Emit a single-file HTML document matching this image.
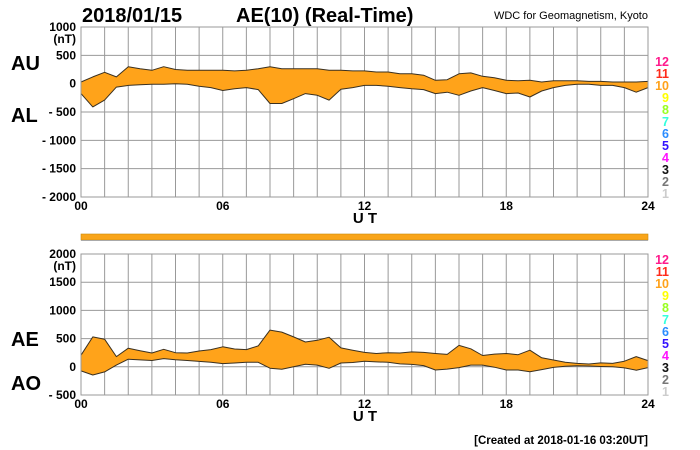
<!DOCTYPE html>
<html><head><meta charset="utf-8"><style>
body{margin:0;background:#fff;}
svg{display:block;font-family:"Liberation Sans",Arial,sans-serif;}
</style></head><body>
<svg id="c" width="700" height="450" viewBox="0 0 700 450" xmlns="http://www.w3.org/2000/svg">
<text x="82" y="22" font-size="20" font-weight="bold">2018/01/15</text>
<text x="236" y="22" font-size="20" font-weight="bold">AE(10) (Real-Time)</text>
<text x="648" y="19" font-size="11" text-anchor="end">WDC for Geomagnetism, Kyoto</text>
<text x="11" y="70" font-size="20" font-weight="bold">AU</text>
<text x="11" y="122" font-size="20" font-weight="bold">AL</text>
<text x="11" y="346" font-size="20" font-weight="bold">AE</text>
<text x="11" y="390" font-size="20" font-weight="bold">AO</text>
<rect x="81" y="234" width="567" height="6" fill="#f9a51a" stroke="#c98a10" stroke-width="0.6"/>
<line x1="81" y1="240.5" x2="648" y2="240.5" stroke="#aaa" stroke-width="1"/>
<text x="648" y="444" font-size="11.5" font-weight="bold" text-anchor="end">[Created at 2018-01-16 03:20UT]</text>
</svg>
<script>
const hours=[0,0.5,1,1.5,2,2.5,3,3.5,4,4.5,5,5.5,6,6.5,7,7.5,8,8.5,9,9.5,10,10.5,11,11.5,12,12.5,13,13.5,14,14.5,15,15.5,16,16.5,17,17.5,18,18.5,19,19.5,20,20.5,21,21.5,22,22.5,23,23.5,24];
const auValues=[30,120,200,120,300,265,235,300,250,235,235,235,235,225,235,265,300,265,265,265,265,235,235,225,225,205,205,175,175,150,60,70,175,190,130,105,60,50,60,30,50,50,50,40,40,30,30,30,40];
const alValues=[-175,-410,-290,-60,-30,-20,-10,-10,0,-10,-45,-70,-120,-90,-70,-105,-350,-350,-265,-175,-205,-290,-100,-70,-30,-30,-45,-70,-90,-105,-175,-150,-205,-130,-70,-120,-175,-165,-235,-130,-70,-30,-10,-10,-30,-30,-70,-150,-70];
const aeValues=[205,530,490,180,330,285,245,310,250,245,280,305,355,315,305,370,650,615,530,440,470,525,335,295,255,235,250,245,265,255,235,220,380,320,200,225,235,215,295,160,120,80,60,50,70,60,100,180,110];
const aoValues=[-72,-145,-90,30,135,122,112,145,125,112,95,82,57,67,82,80,-25,-42,0,45,30,-27,67,77,97,87,80,52,42,22,-57,-40,-15,30,30,-7,-57,-57,-87,-50,-10,10,20,15,5,0,-20,-60,-15];
const topTicks=[1000,500,0,-500,-1000,-1500,-2000];
const botTicks=[2000,1500,1000,500,0,-500];
const xTickLabels=["00","06","12","18","24"];
const legendLabels=["12","11","10","9","8","7","6","5","4","3","2","1"];
const legendColors=["#ff1a8c","#ff2a1a","#ffa21a","#ffff00","#99ff22","#33ffdd","#2a8cff","#3311ff","#ff11ff","#111","#777","#ccc"];

const svg=document.getElementById('c');
const NS='http://www.w3.org/2000/svg';
const X0=81,X1=648;
const xs=h=>X0+(X1-X0)*h/24;
function mk(tag,attrs,parent){const e=document.createElementNS(NS,tag);for(const k in attrs)e.setAttribute(k,attrs[k]);(parent||svg).appendChild(e);return e;}

function panel(name,yTop,yBot,vMax,vMin,ticks,upper,lower){
  const ys=v=>yTop+(vMax-v)*(yBot-yTop)/(vMax-vMin);
  const g=mk('g',{});
  
  
  for(let h=0;h<=24;h++){
    const l=mk('line',{x1:xs(h),x2:xs(h),y1:yTop,y2:yBot,stroke:'#999','stroke-width':1},g);
    
    
  }
  ticks.forEach((t,i)=>{
    const y=ys(t);
    const l=mk('line',{x1:X0,x2:X1,y1:y,y2:y,stroke:'#999','stroke-width':1},g);
    
    
    const tx=mk('text',{x:76,y:y+4,'font-size':12,'font-weight':'bold','text-anchor':'end'},g);
    tx.textContent=t<0?'- '+(-t):String(t);
    
    
    if(i===0){
      const u=mk('text',{x:76,y:y+16,'font-size':12,'font-weight':'bold','text-anchor':'end'},g);
      u.textContent='(nT)';
      
      
    }
  });
  let d='';
  hours.forEach((h,i)=>{d+=(i?'L':'M')+xs(h).toFixed(1)+','+ys(upper[i]).toFixed(1);});
  for(let i=hours.length-1;i>=0;i--)d+='L'+xs(hours[i]).toFixed(1)+','+ys(lower[i]).toFixed(1);
  d+='Z';
  const a=mk('path',{d:d,fill:'#ffa31a',stroke:'#3a3020','stroke-width':1,'stroke-linejoin':'round'},g);
  
  
  mk('rect',{x:X0,y:yTop,width:X1-X0,height:yBot-yTop,fill:'none',stroke:'#999','stroke-width':1},g);
  xTickLabels.forEach((s,i)=>{
    const t=mk('text',{x:xs(i*6),y:yBot+13,'font-size':12,'font-weight':'bold','text-anchor':'middle'},g);
    t.textContent=s;
    
    
  });
  const ut=mk('text',{x:365,y:yBot+26,'font-size':15,'font-weight':'bold','text-anchor':'middle'},g);
  ut.textContent='U T';
  
  
  legendLabels.forEach((s,i)=>{
    const t=mk('text',{x:669,y:yBot-(legendLabels.length-1-i)*12+1,'font-size':12.5,'font-weight':'bold','text-anchor':'end',fill:legendColors[i]},g);
    t.textContent=s;
    
    
  });
}
panel('au-al',27,197,1000,-2000,topTicks,auValues,alValues);
panel('ae-ao',254,395,2000,-500,botTicks,aeValues,aoValues);
</script>
</body></html>
